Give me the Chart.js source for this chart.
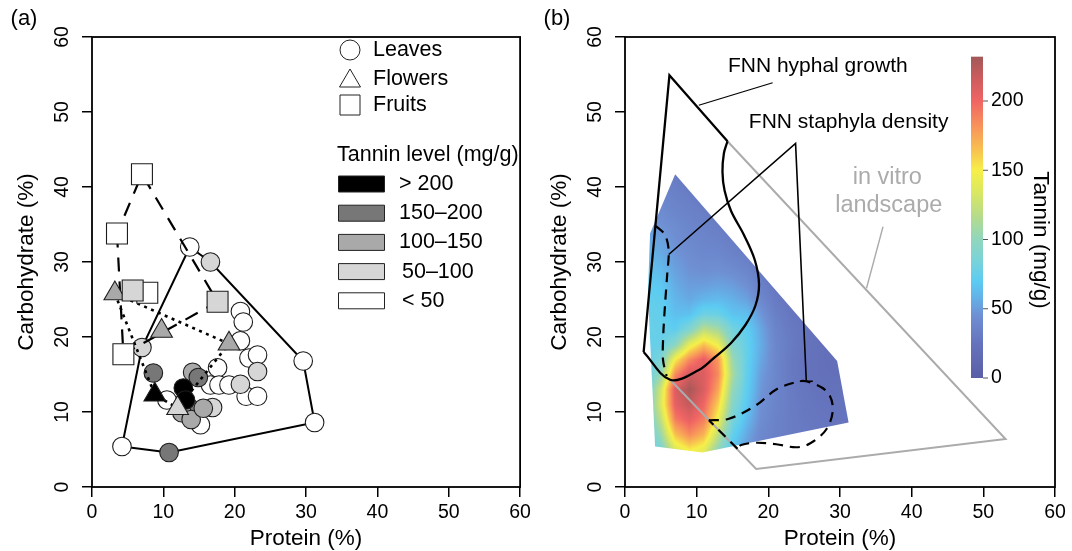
<!DOCTYPE html>
<html>
<head>
<meta charset="utf-8">
<script src="https://cdn.jsdelivr.net/npm/chart.js@4.4.1/dist/chart.umd.min.js"></script>
<style>
  html, body { margin: 0; padding: 0; background: #fff; }
  #wrap { position: relative; width: 1072px; height: 551px; overflow: hidden; }
  canvas { position: absolute; top: 0; }
  #ca { left: 0; }
  #cb { left: 536px; }
</style>
</head>
<body>
<div id="wrap">
  <canvas id="ca" width="536" height="551"></canvas>
  <canvas id="cb" width="536" height="551"></canvas>
</div>
<script>
// ---- Shared ----
const FONT = "'Liberation Sans', Arial, Helvetica, sans-serif";
const AXIS_TICKS = [0, 10, 20, 30, 40, 50, 60];

// ---- Panel (a) data ----
const SHAPE_NAMES = ["Leaves", "Flowers", "Fruits"];
const TANNIN_CLASSES = ["> 200", "150\u2013200", "100\u2013150", "50\u2013100", "< 50"];
const TANNIN_FILLS = ["#000000", "#777777", "#a9a9a9", "#d6d6d6", "#ffffff"];

// class = index into TANNIN_CLASSES
const leafProtein = [13.7, 29.6, 31.2, 4.2, 10.5, 15.2, 17.6, 16.6, 17.8, 19.2, 20.8, 21.2, 20.8, 22.0, 23.2, 21.6, 23.2,
                     16.6, 7.0, 20.8, 23.2, 16.9,
                     10.8, 8.6, 13.6, 12.6, 13.9, 15.6, 14.1, 14.9,
                     12.8, 13.1];
const leafCarb    = [32.0, 16.8, 8.6, 5.4, 11.6, 8.3, 15.9, 13.6, 13.6, 13.6, 23.4, 22.0, 19.5, 17.2, 17.6, 12.1, 12.1,
                     30.0, 18.6, 13.7, 15.4, 10.6,
                     4.6, 15.2, 10.6, 9.9, 9.0, 10.5, 15.3, 14.6,
                     13.2, 11.6];
const leafClass   = [4, 4, 4, 4, 4, 4, 4, 4, 4, 4, 4, 4, 4, 4, 4, 4, 4,
                     3, 3, 3, 3, 3,
                     1, 1, 1, 2, 2, 2, 2, 1,
                     0, 0];

const flowerProtein = [3.2, 9.75, 19.2, 8.8, 12.0];
const flowerCarb    = [25.8, 20.8, 19.1, 12.3, 10.5];
const flowerClass   = [2, 2, 2, 0, 3];

const fruitProtein = [7.0, 3.5, 7.75, 5.7, 17.6, 4.4];
const fruitCarb    = [41.7, 33.8, 25.9, 26.2, 24.7, 17.7];
const fruitClass   = [4, 4, 4, 3, 3, 4];

// ---- Panel (b) data ----
// tannin grid (mg/g): rows follow heatCarb, columns follow heatProtein
const heatProtein = [3, 5, 7, 9, 11, 13, 15, 17, 19, 21, 23, 25, 27, 29, 31];
const heatCarb = [41, 39, 37, 35, 33, 31, 29, 27, 25, 23, 21, 19, 17, 15, 13, 11, 9, 7, 5];
const heatTannin = [
  [38, 36, 32, 28, 25, 22, 20, 20, 20, 20, 20, 20, 20, 20, 20],
  [40, 38, 35, 32, 28, 25, 22, 20, 20, 20, 20, 20, 20, 20, 20],
  [44, 42, 38, 35, 32, 28, 25, 22, 20, 20, 20, 20, 20, 20, 20],
  [50, 46, 42, 38, 35, 32, 28, 25, 22, 20, 20, 20, 20, 20, 20],
  [55, 52, 45, 40, 38, 36, 32, 28, 25, 22, 20, 18, 18, 18, 18],
  [60, 56, 48, 43, 40, 40, 36, 32, 28, 25, 22, 20, 18, 18, 18],
  [65, 62, 52, 46, 44, 45, 42, 38, 30, 27, 24, 22, 20, 18, 18],
  [70, 68, 56, 50, 50, 52, 50, 44, 34, 28, 25, 22, 20, 18, 18],
  [74, 72, 60, 55, 60, 62, 58, 52, 40, 30, 26, 23, 20, 18, 18],
  [76, 74, 64, 65, 80, 78, 66, 64, 48, 34, 28, 24, 21, 19, 19],
  [76, 75, 72, 90, 120, 110, 82, 72, 54, 37, 30, 26, 22, 20, 20],
  [75, 76, 95, 140, 165, 145, 92, 75, 56, 39, 31, 26, 22, 20, 20],
  [74, 86, 150, 185, 205, 180, 105, 75, 54, 39, 30, 25, 22, 20, 20],
  [74, 102, 185, 215, 210, 185, 112, 74, 50, 39, 30, 25, 22, 21, 21],
  [76, 130, 210, 230, 210, 175, 102, 72, 48, 38, 31, 27, 24, 23, 23],
  [78, 135, 205, 220, 200, 160, 94, 68, 45, 37, 32, 28, 26, 25, 25],
  [76, 122, 190, 205, 190, 145, 85, 62, 43, 36, 32, 29, 27, 26, 26],
  [72, 105, 165, 185, 170, 122, 75, 55, 40, 35, 32, 30, 28, 27, 27],
  [66, 88, 135, 152, 142, 100, 66, 50, 38, 34, 32, 30, 28, 27, 27]
];

// colour scale of the tannin landscape
const COLOR_VALUES = [0, 25, 45, 60, 70, 85, 100, 118, 135, 150, 165, 180, 200, 215, 232];
const COLOR_HEX = ["#5a5ea6", "#6573bd", "#6f8fd3", "#62b6ea", "#5cccf2", "#7ad3d8", "#90d6bd", "#b8dc88",
                   "#dce860", "#f6ef48", "#f8c050", "#f8985a", "#f06464", "#d05c5e", "#a25858"];
const COLORBAR_TICKS = [0, 50, 100, 150, 200];

const hyphalLineP = [2.6, 6.2, 14.3];
const hyphalLineC = [18.0, 54.9, 46.1];
const hyphalCurveP = [14.3, 13.8, 13.6, 13.9, 14.8, 16.6, 18.1, 18.7, 18.2, 16.8, 14.8, 12.4, 10.3, 6.3, 2.6];
const hyphalCurveC = [46.1, 44.5, 42.0, 39.5, 36.8, 33.6, 30.3, 27.0, 24.2, 21.6, 19.2, 17.2, 15.6, 14.3, 18.0];

const staphSolidP = [6.1, 23.8, 25.3];
const staphSolidC = [31.0, 45.8, 14.1];
const staphCapP = [24.4, 26.2];
const staphCapC = [14.1, 14.1];
const staphLeftP = [4.3, 5.6, 6.1, 5.9, 5.6, 5.35, 5.3, 5.8];
const staphLeftC = [34.8, 33.6, 31.5, 28.5, 24.5, 20.5, 17.0, 14.8];
const staphLoopP = [11.7, 14.5, 18.3, 21.1, 23.9, 25.3, 28.1, 29.0, 28.1, 25.8, 23.9, 21.1, 18.3, 16.2, 15.7];
const staphLoopC = [8.9, 9.1, 10.9, 13.0, 14.0, 14.1, 12.8, 10.5, 7.7, 5.8, 5.3, 5.7, 5.9, 5.6, 5.1];
const staphDiagP = [15.7, 11.7];
const staphDiagC = [5.1, 8.9];

const vitroP = [14.3, 53.1, 18.3, 6.3];
const vitroC = [46.1, 6.4, 2.4, 14.3];

const hyphalLeaderP = [20.6, 10.3];
const hyphalLeaderC = [53.9, 50.9];
const vitroLeaderP = [36.0, 33.7];
const vitroLeaderC = [34.7, 26.5];

// ---- Helpers ----
function pts(xs, ys) {
  return xs.map((x, i) => ({ x: x, y: ys[i] }));
}

function hull(xs, ys) {
  const p = pts(xs, ys).sort((a, b) => a.x - b.x || a.y - b.y);
  const cross = (o, a, b) => (a.x - o.x) * (b.y - o.y) - (a.y - o.y) * (b.x - o.x);
  const lower = [], upper = [];
  for (const q of p) {
    while (lower.length >= 2 && cross(lower[lower.length - 2], lower[lower.length - 1], q) <= 0) lower.pop();
    lower.push(q);
  }
  for (let i = p.length - 1; i >= 0; i--) {
    const q = p[i];
    while (upper.length >= 2 && cross(upper[upper.length - 2], upper[upper.length - 1], q) <= 0) upper.pop();
    upper.push(q);
  }
  const h = lower.slice(0, -1).concat(upper.slice(0, -1));
  h.push(h[0]);
  return h;
}

function hexRgb(h) {
  return [parseInt(h.slice(1, 3), 16), parseInt(h.slice(3, 5), 16), parseInt(h.slice(5, 7), 16)];
}
const COLOR_RGB = COLOR_HEX.map(hexRgb);

function cmap(v) {
  if (v <= COLOR_VALUES[0]) return COLOR_RGB[0];
  for (let k = 1; k < COLOR_VALUES.length; k++) {
    if (v <= COLOR_VALUES[k]) {
      const t = (v - COLOR_VALUES[k - 1]) / (COLOR_VALUES[k] - COLOR_VALUES[k - 1]);
      const a = COLOR_RGB[k - 1], b = COLOR_RGB[k];
      return [a[0] + (b[0] - a[0]) * t, a[1] + (b[1] - a[1]) * t, a[2] + (b[2] - a[2]) * t];
    }
  }
  return COLOR_RGB[COLOR_RGB.length - 1];
}

function lineSet(xs, ys, opt) {
  return Object.assign({
    type: 'scatter', data: pts(xs, ys), showLine: true, pointRadius: 0,
    borderColor: '#000', borderWidth: 2, fill: false, tension: 0
  }, opt);
}

function scales(yWidth) {
  const grid = { drawOnChartArea: false, drawTicks: true, tickLength: 10, color: '#000', lineWidth: 1.5 };
  return {
    x: {
      type: 'linear', min: 0, max: 60,
      ticks: { stepSize: 10, color: '#000', font: { family: FONT, size: 19.5 }, padding: 4, maxRotation: 0 },
      grid: grid, border: { display: false },
      afterFit(s) { s.height = 64; }
    },
    y: {
      type: 'linear', min: 0, max: 60,
      ticks: { stepSize: 10, display: false },
      grid: grid, border: { display: false },
      afterFit(s) { s.width = yWidth; }
    }
  };
}

// box, rotated y labels and axis titles in the R style
function framePlugin(panel) {
  return {
    id: 'frame' + panel,
    afterDraw(chart) {
      const { ctx, chartArea: a } = chart;
      const ys = chart.scales.y;
      ctx.save();
      ctx.strokeStyle = '#000';
      ctx.lineWidth = 1.8;
      ctx.strokeRect(a.left, a.top, a.right - a.left, a.bottom - a.top);
      ctx.fillStyle = '#000';
      ctx.textAlign = 'center';
      ctx.textBaseline = 'middle';
      ctx.font = '19.5px ' + FONT;
      AXIS_TICKS.forEach(v => {
        ctx.save();
        ctx.translate(a.left - 29, ys.getPixelForValue(v));
        ctx.rotate(-Math.PI / 2);
        ctx.fillText(String(v), 0, 0);
        ctx.restore();
      });
      ctx.font = '22.5px ' + FONT;
      ctx.fillText('Protein (%)', (a.left + a.right) / 2, 539);
      ctx.save();
      ctx.translate(a.left - 65, (a.top + a.bottom) / 2);
      ctx.rotate(-Math.PI / 2);
      ctx.fillText('Carbohydrate (%)', 0, 0);
      ctx.restore();
      ctx.font = '22px ' + FONT;
      ctx.fillText('(' + panel + ')', a.left - 68, 19);
      ctx.restore();
    }
  };
}

// ---- Panel (a) ----
const legendA = {
  id: 'legendA',
  afterDraw(chart) {
    const ctx = chart.ctx;
    ctx.save();
    ctx.lineWidth = 1;
    ctx.strokeStyle = '#222';
    ctx.fillStyle = '#fff';
    ctx.beginPath(); ctx.arc(350, 50, 10, 0, 2 * Math.PI); ctx.fill(); ctx.stroke();
    ctx.beginPath(); ctx.moveTo(350, 69); ctx.lineTo(360.5, 87); ctx.lineTo(339.5, 87); ctx.closePath();
    ctx.fill(); ctx.stroke();
    ctx.beginPath(); ctx.rect(340, 95, 20, 20); ctx.fill(); ctx.stroke();
    ctx.fillStyle = '#000';
    ctx.font = '21.5px ' + FONT;
    ctx.textAlign = 'left';
    ctx.textBaseline = 'middle';
    [50, 79, 105].forEach((y, i) => ctx.fillText(SHAPE_NAMES[i], 373, y));
    ctx.fillText('Tannin level (mg/g)', 337, 155);
    TANNIN_CLASSES.forEach((lab, i) => {
      const y = 184 + i * 29.2;
      ctx.fillStyle = TANNIN_FILLS[i];
      ctx.beginPath(); ctx.rect(338.5, y - 8, 46, 16); ctx.fill(); ctx.stroke();
      ctx.fillStyle = '#000';
      ctx.fillText(lab, i < 3 ? 399 : 402, y);
    });
    ctx.restore();
  }
};

const markerBase = { type: 'scatter', borderColor: '#1c1c1c', borderWidth: 1.1, pointHoverRadius: 0 };

new Chart(document.getElementById('ca'), {
  data: {
    datasets: [
      lineSet([], [], { data: hull(leafProtein, leafCarb), borderWidth: 2, order: 6 }),
      Object.assign({}, markerBase, {
        data: pts(leafProtein, leafCarb), pointStyle: 'circle', pointRadius: 9.3,
        backgroundColor: leafClass.map(c => TANNIN_FILLS[c]), order: 5
      }),
      lineSet([], [], { data: hull(fruitProtein, fruitCarb), borderWidth: 2.2, borderDash: [14, 10], order: 4 }),
      lineSet([], [], { data: hull(flowerProtein, flowerCarb), borderWidth: 2.6, borderDash: [3, 4.5], order: 3 }),
      Object.assign({}, markerBase, {
        data: pts(flowerProtein, flowerCarb), pointStyle: 'triangle', pointRadius: 12.5,
        backgroundColor: flowerClass.map(c => TANNIN_FILLS[c]), order: 2
      }),
      Object.assign({}, markerBase, {
        data: pts(fruitProtein, fruitCarb), pointStyle: 'rect', pointRadius: 14.8,
        backgroundColor: fruitClass.map(c => TANNIN_FILLS[c]), order: 1
      })
    ]
  },
  options: {
    responsive: false, animation: false, events: [],
    layout: { padding: { top: 37, right: 14, left: 0, bottom: 0 } },
    plugins: { legend: { display: false }, tooltip: { enabled: false } },
    scales: scales(92)
  },
  plugins: [framePlugin('a'), legendA]
});

// ---- Panel (b) ----
const allProtein = leafProtein.concat(flowerProtein, fruitProtein);
const allCarb = leafCarb.concat(flowerCarb, fruitCarb);

const heatPlugin = {
  id: 'heat',
  beforeDatasetsDraw(chart) {
    const { ctx, chartArea: a } = chart;
    const xs = chart.scales.x, ys = chart.scales.y;
    const w = Math.ceil(a.right - a.left), h = Math.ceil(a.bottom - a.top);
    const off = document.createElement('canvas');
    off.width = w; off.height = h;
    const octx = off.getContext('2d');
    const img = octx.createImageData(w, h);
    const nx = heatProtein.length, ny = heatCarb.length;
    const dx = heatProtein[1] - heatProtein[0], dy = heatCarb[0] - heatCarb[1];
    for (let j = 0; j < h; j++) {
      const yv = ys.getValueForPixel(a.top + j + 0.5);
      const fy = Math.max(0, Math.min(ny - 1, (heatCarb[0] - yv) / dy));
      const j0 = Math.min(Math.floor(fy), ny - 2), ty = fy - j0;
      for (let i = 0; i < w; i++) {
        const xv = xs.getValueForPixel(a.left + i + 0.5);
        const fx = Math.max(0, Math.min(nx - 1, (xv - heatProtein[0]) / dx));
        const i0 = Math.min(Math.floor(fx), nx - 2), tx = fx - i0;
        const r0 = heatTannin[j0], r1 = heatTannin[j0 + 1];
        const v = (1 - ty) * ((1 - tx) * r0[i0] + tx * r0[i0 + 1]) + ty * ((1 - tx) * r1[i0] + tx * r1[i0 + 1]);
        const c = cmap(v), k = (j * w + i) * 4;
        img.data[k] = c[0]; img.data[k + 1] = c[1]; img.data[k + 2] = c[2]; img.data[k + 3] = 255;
      }
    }
    octx.putImageData(img, 0, 0);
    const hp = hull(allProtein, allCarb);
    ctx.save();
    ctx.beginPath();
    hp.forEach((p, i) => {
      const X = xs.getPixelForValue(p.x), Y = ys.getPixelForValue(p.y);
      if (i === 0) ctx.moveTo(X, Y); else ctx.lineTo(X, Y);
    });
    ctx.closePath();
    ctx.clip();
    ctx.drawImage(off, a.left, a.top);
    ctx.restore();
  }
};

const notesB = {
  id: 'notesB',
  afterDraw(chart) {
    const ctx = chart.ctx;
    const xs = chart.scales.x, ys = chart.scales.y;
    ctx.save();
    ctx.textAlign = 'center';
    ctx.textBaseline = 'middle';
    ctx.fillStyle = '#000';
    ctx.font = '21px ' + FONT;
    ctx.fillText('FNN hyphal growth', xs.getPixelForValue(26.9), ys.getPixelForValue(56.1));
    ctx.fillText('FNN staphyla density', xs.getPixelForValue(31.2), ys.getPixelForValue(48.6));
    ctx.fillStyle = '#ababab';
    ctx.font = '23.5px ' + FONT;
    ctx.fillText('in vitro', xs.getPixelForValue(36.6), ys.getPixelForValue(41.2));
    ctx.fillText('landscape', xs.getPixelForValue(36.8), ys.getPixelForValue(37.5));

    // colour bar
    const bx = 435, bw = 12, y0 = 378, pxPer = 69.25 / 50;
    const vmax = COLOR_VALUES[COLOR_VALUES.length - 1];
    const top = y0 - vmax * pxPer;
    const g = ctx.createLinearGradient(0, y0, 0, top);
    COLOR_VALUES.forEach((v, i) => g.addColorStop(v / vmax, COLOR_HEX[i]));
    ctx.fillStyle = g;
    ctx.fillRect(bx, top, bw, y0 - top);
    ctx.strokeStyle = '#555';
    ctx.lineWidth = 1;
    ctx.fillStyle = '#000';
    ctx.font = '19.5px ' + FONT;
    ctx.textAlign = 'left';
    COLORBAR_TICKS.forEach(v => {
      const y = y0 - v * pxPer;
      ctx.beginPath(); ctx.moveTo(bx + bw, y); ctx.lineTo(bx + bw + 5, y); ctx.stroke();
      ctx.fillText(String(v), bx + bw + 8, y);
    });
    ctx.save();
    ctx.translate(504, 240);
    ctx.rotate(Math.PI / 2);
    ctx.textAlign = 'center';
    ctx.font = '22.5px ' + FONT;
    ctx.fillText('Tannin (mg/g)', 0, 0);
    ctx.restore();
    ctx.restore();
  }
};

const dash = [10, 7];
new Chart(document.getElementById('cb'), {
  data: {
    datasets: [
      lineSet(staphLoopP, staphLoopC, { borderWidth: 2.2, borderDash: dash, tension: 0.35, order: 1 }),
      lineSet(staphDiagP, staphDiagC, { borderWidth: 2.2, borderDash: dash, order: 1 }),
      lineSet(staphLeftP, staphLeftC, { borderWidth: 2.2, borderDash: dash, tension: 0.3, order: 1 }),
      lineSet(staphSolidP, staphSolidC, { borderWidth: 1.6, order: 1 }),
      lineSet(staphCapP, staphCapC, { borderWidth: 1.6, order: 1 }),
      lineSet(hyphalLineP, hyphalLineC, { borderWidth: 2.3, order: 1 }),
      lineSet(hyphalCurveP, hyphalCurveC, { borderWidth: 2.3, tension: 0.35, order: 1 }),
      lineSet(hyphalLeaderP, hyphalLeaderC, { borderWidth: 1.3, order: 1 }),
      lineSet(vitroP, vitroC, { borderColor: '#ababab', borderWidth: 2, order: 2 }),
      lineSet(vitroLeaderP, vitroLeaderC, { borderColor: '#ababab', borderWidth: 1.4, order: 2 })
    ]
  },
  options: {
    responsive: false, animation: false, events: [],
    layout: { padding: { top: 37, right: 17, left: 0, bottom: 0 } },
    plugins: { legend: { display: false }, tooltip: { enabled: false } },
    scales: scales(89)
  },
  plugins: [heatPlugin, framePlugin('b'), notesB]
});
</script>
</body>
</html>
